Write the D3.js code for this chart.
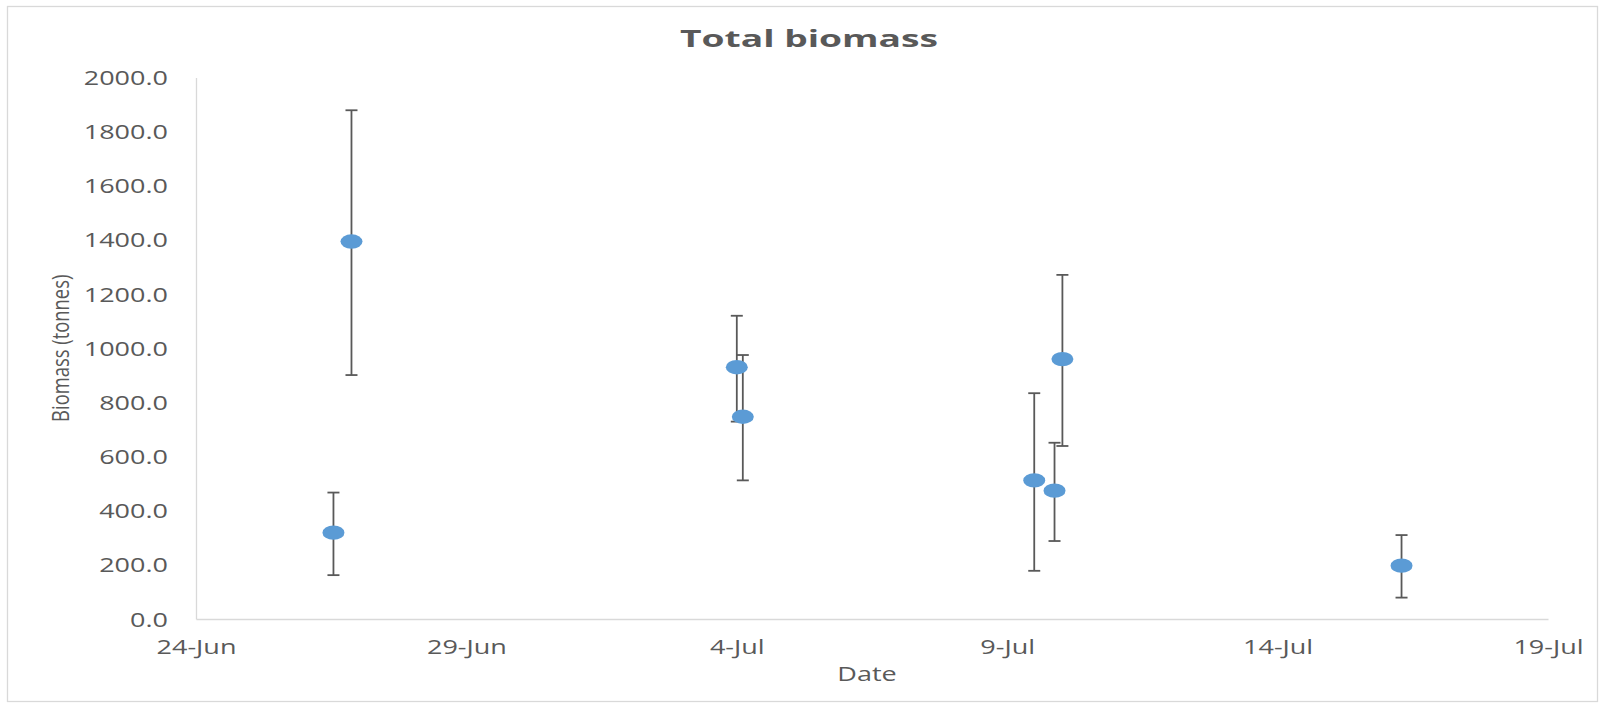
<!DOCTYPE html>
<html><head><meta charset="utf-8">
<script src="https://cdn.jsdelivr.net/npm/d3@7"></script>
<style>html,body{margin:0;padding:0;background:#fff;overflow:hidden}</style>
</head><body>
<svg id="chart" width="1599" height="703"></svg>
<script>
// ---- data ----
const sampleDates = ["2015-06-26T21:00","2015-06-26T13:00","2015-07-04T00:00","2015-07-04T02:40",
                     "2015-07-09T12:00","2015-07-09T21:00","2015-07-10T00:30","2015-07-16T07:00"];
const biomass  = [1394, 319, 930, 747, 512, 474, 960, 197];
const errUpper = [1879, 467, 1120, 975, 834, 651, 1271, 310];
const errLower = [901, 162, 729, 512, 178, 288, 639, 79];
const xTickDates = ["2015-06-24","2015-06-29","2015-07-04","2015-07-09","2015-07-14","2015-07-19"];
const yTickValues = [0, 200, 400, 600, 800, 1000, 1200, 1400, 1600, 1800, 2000];
const chartTitle = "Total biomass";
const xTitle = "Date";
const yTitle = "Biomass (tonnes)";

// ---- layout ----
const W = 1599, H = 703;
const plot = {left: 196, right: 1548, top: 77.5, bottom: 619};
const textColor = "#595959";
const font = "'Open Sans', 'Liberation Sans', sans-serif";
const kx = 1.35; // horizontal stretch of text as in reference

const parseDT = d3.timeParse("%Y-%m-%dT%H:%M");
const parseD = d3.timeParse("%Y-%m-%d");
const points = sampleDates.map((d, i) => ({
  date: parseDT(d), v: biomass[i], hi: errUpper[i], lo: errLower[i]
}));
const xTicks = xTickDates.map(parseD);

const x = d3.scaleTime().domain([xTicks[0], xTicks[xTicks.length - 1]]).range([plot.left, plot.right]);
const y = d3.scaleLinear().domain([0, 2000]).range([plot.bottom, plot.top]);

const svg = d3.select("#chart");
svg.append("rect").attr("x", 0).attr("y", 0).attr("width", W).attr("height", H).attr("fill", "#fff");
svg.append("rect").attr("x", 7.5).attr("y", 6.5).attr("width", 1590).attr("height", 695)
  .attr("fill", "none").attr("stroke", "#d9d9d9").attr("stroke-width", 1.3);

// title
svg.append("text")
  .attr("transform", `translate(${(plot.left + plot.right) / 2 - 63},47) scale(1.55,1)`)
  .attr("text-anchor", "middle")
  .attr("font-family", font).attr("font-weight", "bold").attr("font-size", 24)
  .attr("fill", textColor).text(chartTitle);

// y axis
const gy = svg.append("g").attr("transform", `translate(${plot.left},0)`)
  .call(d3.axisLeft(y).tickValues(yTickValues).tickFormat(d3.format(".1f")).tickSize(0));
gy.select(".domain").attr("stroke", "#d9d9d9").attr("stroke-width", 1.3);
gy.selectAll(".tick text")
  .attr("x", 0).attr("dy", "0.35em")
  .attr("transform", `translate(-28,0) scale(${kx},1)`)
  .attr("font-family", font).attr("font-size", 20).attr("fill", textColor);

// x axis
const gx = svg.append("g").attr("transform", `translate(0,${plot.bottom})`)
  .call(d3.axisBottom(x).tickValues(xTicks).tickFormat(d3.timeFormat("%-d-%b")).tickSize(0));
gx.select(".domain").attr("stroke", "#d9d9d9").attr("stroke-width", 1.3);
gx.selectAll(".tick text")
  .attr("y", 0).attr("dy", "0.35em")
  .attr("transform", `translate(0,28) scale(${kx},1)`)
  .attr("font-family", font).attr("font-size", 20).attr("fill", textColor);

// axis titles
svg.append("text")
  .attr("transform", `translate(${(plot.left + plot.right) / 2 - 5},674) scale(${kx},1)`)
  .attr("text-anchor", "middle").attr("dy", "0.35em")
  .attr("font-family", font).attr("font-size", 20).attr("fill", textColor).text(xTitle);

svg.append("text")
  .attr("transform", `translate(61,${(plot.top + plot.bottom) / 2}) rotate(-90) scale(1,1.3)`)
  .attr("text-anchor", "middle").attr("dy", "0.35em")
  .attr("font-family", font).attr("font-size", 18.4).attr("fill", textColor).text(yTitle);

// error bars
const eb = svg.append("g").attr("stroke", "#595959").attr("stroke-width", 1.8);
points.forEach(p => {
  const cx = x(p.date);
  eb.append("line").attr("x1", cx).attr("x2", cx).attr("y1", y(p.lo)).attr("y2", y(p.hi));
  eb.append("line").attr("x1", cx - 6).attr("x2", cx + 6).attr("y1", y(p.hi)).attr("y2", y(p.hi));
  eb.append("line").attr("x1", cx - 6).attr("x2", cx + 6).attr("y1", y(p.lo)).attr("y2", y(p.lo));
});

// markers
svg.append("g").selectAll("ellipse").data(points).join("ellipse")
  .attr("cx", d => x(d.date)).attr("cy", d => y(d.v))
  .attr("rx", 11).attr("ry", 7.2).attr("fill", "#5B9BD5");
</script>
</body></html>
